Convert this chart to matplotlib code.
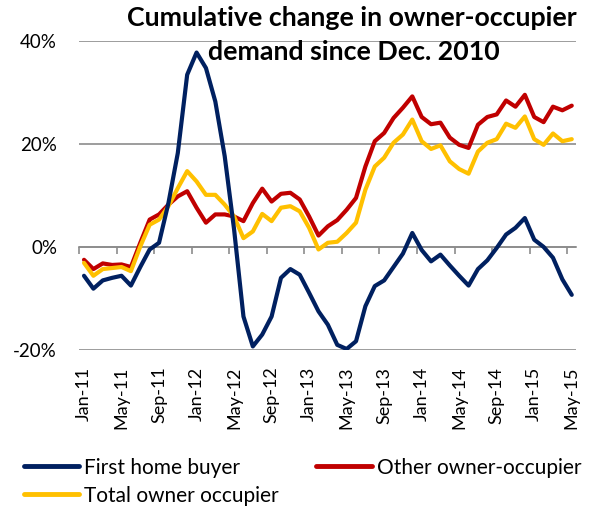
import numpy as np
import matplotlib.pyplot as plt

plt.rcParams['font.family'] = ['Lato', 'DejaVu Sans']

months = ['Jan', 'Feb', 'Mar', 'Apr', 'May', 'Jun', 'Jul', 'Aug', 'Sep', 'Oct', 'Nov', 'Dec']
labels = [f'{months[i % 12]}-{11 + i // 12}' for i in range(53)]

first_home = [-5.6, -8.1, -6.5, -6.0, -5.6, -7.5, -3.9, -0.5, 0.8, 8.5,
              18.2, 33.4, 37.7, 34.7, 28.2, 17.6, 3.4, -13.5, -19.3, -17.0,
              -13.5, -6.0, -4.3, -5.4, -8.9, -12.5, -15.1, -19.0, -19.8, -18.3,
              -11.5, -7.6, -6.5, -3.9, -1.3, 2.7, -0.6, -2.8, -1.5, -3.6,
              -5.6, -7.5, -4.3, -2.6, -0.2, 2.4, 3.7, 5.6, 1.4, 0.0,
              -2.1, -6.3, -9.3]
other_owner = [-2.5, -4.3, -3.2, -3.5, -3.4, -3.9, 0.8, 5.3, 6.3, 8.2,
               9.8, 10.8, 7.6, 4.7, 6.3, 6.3, 5.9, 5.0, 8.5, 11.3,
               8.8, 10.3, 10.5, 9.2, 5.9, 2.2, 4.0, 5.2, 7.2, 9.5,
               15.6, 20.5, 22.1, 25.0, 27.0, 29.2, 25.2, 23.8, 24.1, 21.2,
               19.8, 19.2, 23.7, 25.2, 25.7, 28.4, 27.2, 29.5, 25.2, 24.2,
               27.2, 26.5, 27.4]
total_owner = [-3.1, -5.6, -4.3, -4.1, -3.9, -4.7, 0.1, 4.3, 5.3, 7.9,
               11.4, 14.7, 12.7, 10.1, 10.1, 8.2, 5.9, 1.7, 3.0, 6.4,
               5.0, 7.6, 7.9, 6.9, 3.7, -0.5, 0.8, 1.0, 2.7, 4.7,
               11.1, 15.6, 17.3, 20.2, 21.8, 24.7, 20.5, 19.0, 19.7, 16.6,
               15.1, 14.2, 18.5, 20.2, 20.9, 23.9, 23.1, 25.3, 20.9, 19.8,
               22.0, 20.5, 20.9]

navy = '#002060'
red = '#C00000'
gold = '#FFC000'
grey = '#8C8C8C'

fig = plt.figure(figsize=(5.95, 5.08), dpi=100)
ax = fig.add_axes([0.1333, 0.311, 0.8355, 0.6089])

x = np.arange(len(labels))
style = dict(lw=3.0, solid_capstyle='round', solid_joinstyle='round')
l1, = ax.plot(x, first_home, color=navy, label='First home buyer', zorder=4, **style)
l2, = ax.plot(x, other_owner, color=red, label='Other owner-occupier', zorder=3, **style)
l3, = ax.plot(x, total_owner, color=gold, label='Total owner occupier', zorder=3.5, **style)

ax.set_xlim(-0.5, len(labels) - 0.5)
ax.set_ylim(-20, 40)
ax.set_yticks([-20, 0, 20, 40])
ax.set_yticklabels(['-20%', '0%', '20%', '40%'])
ax.yaxis.grid(True, color=grey, lw=1.2)
ax.set_axisbelow(True)
for s in ax.spines.values():
    s.set_visible(False)
ax.tick_params(axis='y', length=0, pad=16, labelsize=13.5)

ax.set_xticks(x[::4])
ax.set_xticklabels(labels[::4], rotation=90)
ax.tick_params(axis='x', length=0, pad=12, labelsize=13)

# category axis crossing at zero with tick marks between categories
sec = ax.secondary_xaxis(1 / 3)
sec.set_xticks(np.arange(-0.5, len(labels), 4))
sec.set_xticklabels([])
sec.tick_params(axis='x', direction='out', length=5, width=1.2, color=grey)
sec.spines['bottom'].set_color(grey)
sec.spines['bottom'].set_linewidth(1.2)

fig.text(0.592, 0.964, 'Cumulative change in owner-occupier', ha='center', va='center',
         fontsize=19.3, fontweight='bold')
fig.text(0.594, 0.897, 'demand since Dec. 2010', ha='center', va='center',
         fontsize=19.3, fontweight='bold')

leg = fig.legend([l1, l3, l2], [l1.get_label(), l3.get_label(), l2.get_label()],
                 loc='upper left', bbox_to_anchor=(0.04, 0.099), ncol=2, frameon=False,
                 fontsize=15, handlelength=2.65, handletextpad=0.25, columnspacing=1.8,
                 labelspacing=0.38, borderpad=0, borderaxespad=0)
for h in leg.get_lines():
    h.set_linewidth(3.5)

fig.savefig('out.png', dpi=100)
